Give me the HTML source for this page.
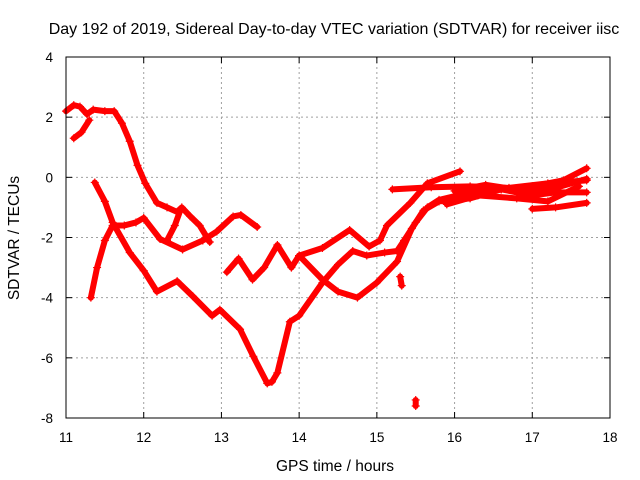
<!DOCTYPE html>
<html><head><meta charset="utf-8"><style>
body{margin:0;background:#fff}
svg{display:block;font-family:"Liberation Sans",sans-serif}
</style></head><body>
<svg id="chart" width="640" height="480">
<text x="334" y="34" font-size="16" text-anchor="middle">Day 192 of 2019, Sidereal Day-to-day VTEC variation (SDTVAR) for receiver iisc</text>
<text x="335" y="471" font-size="15.5" text-anchor="middle">GPS time / hours</text>
<text transform="translate(19,238) rotate(-90)" font-size="15.5" text-anchor="middle">SDTVAR / TECUs</text>
<g id="grid"></g><g id="ticks"></g><g id="series"></g>
<rect x="66" y="57" width="544" height="361" fill="none" stroke="#000" stroke-width="1"/>
</svg>
<script>
const xTicks=[11,12,13,14,15,16,17,18];
const yTicks=[-8,-6,-4,-2,0,2,4];
const t1h=[11.0,11.1,11.18,11.27,11.35,11.5,11.62,11.72,11.82,11.92,12.02,12.17,12.3,12.43,12.49,12.6,12.72,12.85];
const t1v=[2.2,2.4,2.35,2.1,2.25,2.2,2.2,1.8,1.2,0.4,-0.2,-0.85,-1.0,-1.15,-1.0,-1.3,-1.6,-2.15];
const t2h=[11.1,11.2,11.3];
const t2v=[1.3,1.5,1.9];
const t3h=[11.37,11.5,11.6,11.82,12.0,12.17,12.43,12.63,12.88,12.98,13.24,13.41,13.59,13.65,13.72,13.88,14.0,14.3,14.5,14.69,14.87,15.1,15.26,15.35,15.5,15.65,15.8,16.2,16.6,17.0,17.3,17.7];
const t3v=[-0.17,-0.8,-1.5,-2.5,-3.1,-3.8,-3.45,-3.95,-4.6,-4.4,-5.05,-5.95,-6.85,-6.8,-6.5,-4.8,-4.6,-3.5,-2.9,-2.45,-2.6,-2.5,-2.45,-2.1,-1.5,-1.0,-0.75,-0.5,-0.4,-0.6,-0.5,-0.5];
const t4h=[11.32,11.4,11.5,11.6,11.75,11.9,12.0,12.21,12.5,12.76,12.94,13.15,13.25,13.46];
const t4v=[-4.0,-3.0,-2.1,-1.6,-1.6,-1.5,-1.35,-2.05,-2.4,-2.1,-1.8,-1.3,-1.25,-1.65];
const t5h=[12.3,12.4,12.47];
const t5v=[-2.1,-1.6,-1.1];
const t6h=[13.07,13.22,13.4,13.55,13.72,13.9,14.0,14.3,14.65,14.9,15.04,15.13,15.43,15.65,16.07];
const t6v=[-3.15,-2.7,-3.4,-3.0,-2.25,-3.0,-2.6,-2.35,-1.75,-2.3,-2.1,-1.6,-0.85,-0.2,0.2];
const t7h=[14.0,14.3,14.5,14.75,15.0,15.26,15.45,15.6,15.8,16.2,16.6,17.0,17.4,17.7];
const t7v=[-2.6,-3.4,-3.8,-4.0,-3.5,-2.8,-1.7,-1.1,-0.8,-0.7,-0.4,-0.3,-0.1,0.3];
const t8h=[15.2,15.7,16.2,16.7,17.2,17.7];
const t8v=[-0.4,-0.33,-0.3,-0.35,-0.2,-0.1];
const t9h=[17.0,17.3,17.7];
const t9v=[-1.05,-1.0,-0.85];
const t10h=[15.3,15.32];
const t10v=[-3.3,-3.6];
const t11h=[15.5,15.5];
const t11v=[-7.4,-7.6];
const t12h=[15.9,16.3,16.8,17.2,17.6];
const t12v=[-0.9,-0.6,-0.7,-0.8,-0.3];
const t13h=[16.0,16.4,16.9,17.3,17.7];
const t13v=[-0.45,-0.25,-0.45,-0.35,-0.05];
const tracks=[[t1h,t1v],[t2h,t2v],[t3h,t3v],[t4h,t4v],[t5h,t5v],[t6h,t6v],[t7h,t7v],[t8h,t8v],[t9h,t9v],[t10h,t10v],[t11h,t11v],[t12h,t12v],[t13h,t13v]];
const X=h=>66+(h-11)*544/7;
const Y=v=>418-(v+8)*361/12;
const NS="http://www.w3.org/2000/svg";
const grid=document.getElementById('grid'),ticks=document.getElementById('ticks'),ser=document.getElementById('series');
function mk(tag,at,par){const e=document.createElementNS(NS,tag);for(const k in at)e.setAttribute(k,at[k]);par.appendChild(e);return e;}
xTicks.forEach(t=>{const x=X(t);
 if(t>11&&t<18){const g=mk('line',{x1:x,x2:x,y1:57,y2:418,stroke:'#a0a0a0','stroke-dasharray':'2,3'},grid);
 
 }
 mk('line',{x1:x,x2:x,y1:418,y2:412,stroke:'#000'},ticks);mk('line',{x1:x,x2:x,y1:57,y2:63,stroke:'#000'},ticks);
 const l=mk('text',{x:x,y:442,'font-size':13.5,'text-anchor':'middle'},ticks);l.textContent=t;
 
 });
yTicks.forEach(t=>{const y=Y(t);
 if(t>-8&&t<4){const g=mk('line',{x1:66,x2:610,y1:y,y2:y,stroke:'#a0a0a0','stroke-dasharray':'2,3'},grid);
 
 }
 mk('line',{x1:66,x2:72,y1:y,y2:y,stroke:'#000'},ticks);mk('line',{x1:610,x2:604,y1:y,y2:y,stroke:'#000'},ticks);
 const l=mk('text',{x:53,y:y+5,'font-size':13.5,'text-anchor':'end'},ticks);l.textContent=t;
 
 });
tracks.forEach((tr,i)=>{const [hs,vs]=tr;
 const pts=hs.map((h,j)=>X(h)+','+Y(vs[j])).join(' ');
 const p=mk('polyline',{points:pts,fill:'none',stroke:'#ff0000','stroke-width':6,'stroke-linejoin':'round','stroke-linecap':'round'},ser);
 
 
 hs.forEach((h,j)=>{const x=X(h),y=Y(vs[j]);
  const m=mk('path',{d:`M${x-4},${y}H${x+4}M${x},${y-4}V${y+4}`,stroke:'#ff0000','stroke-width':1.2},ser);
  
  });
});
</script>
</body></html>
